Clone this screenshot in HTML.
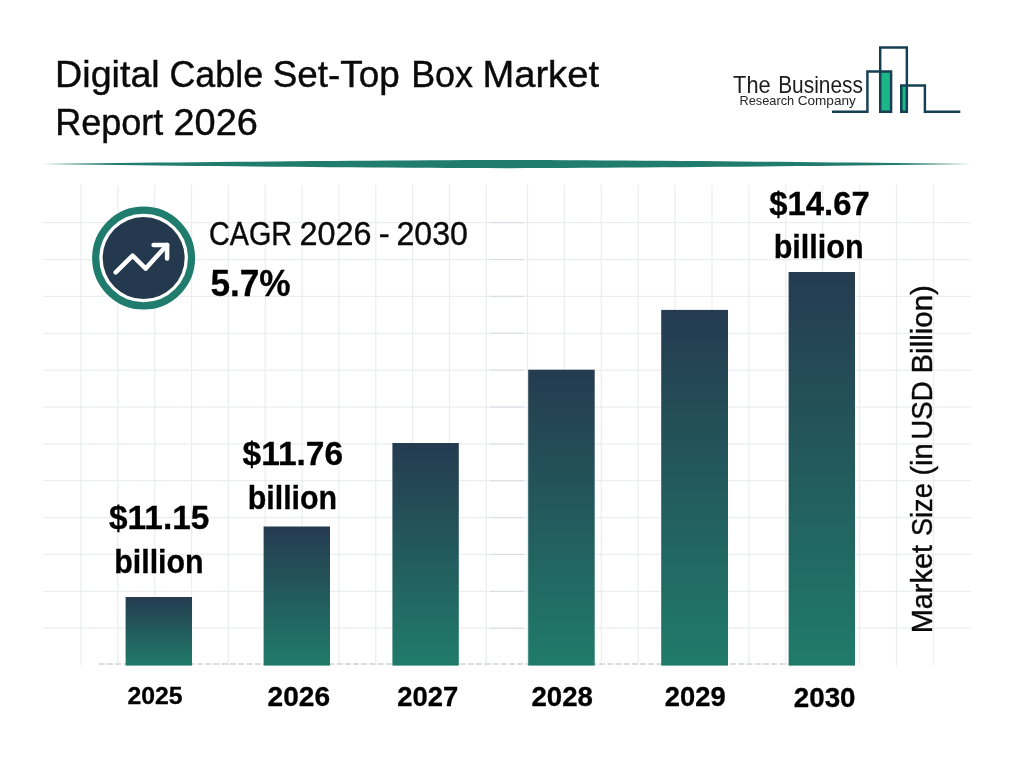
<!DOCTYPE html>
<html lang="en">
<head>
<meta charset="utf-8">
<title>Digital Cable Set-Top Box Market Report 2026</title>
<style>
html,body{margin:0;padding:0;background:#fff;}
body{width:1024px;height:768px;overflow:hidden;font-family:"Liberation Sans",sans-serif;}
svg{display:block;position:absolute;left:0;top:0;}
text{font-family:"Liberation Sans",sans-serif;fill:#0a0a0a;stroke:#0a0a0a;stroke-width:0.4px;}
.b{font-weight:bold;fill:#000;stroke:#000;stroke-width:0.3px;}
</style>
</head>
<body>
<svg width="1024" height="768" viewBox="0 0 1024 768">
<defs>
<linearGradient id="bar" x1="0" y1="0" x2="0" y2="1">
<stop offset="0" stop-color="#253b50"/>
<stop offset="1" stop-color="#207b6a"/>
</linearGradient>
</defs>
<rect width="1024" height="768" fill="#ffffff"/>

<g stroke="#ebedf0" stroke-width="1.25" fill="none">
<line x1="43.2" y1="222.65" x2="970.8" y2="222.65"/>
<line x1="43.2" y1="259.52" x2="970.8" y2="259.52"/>
<line x1="43.2" y1="296.39" x2="970.8" y2="296.39"/>
<line x1="43.2" y1="333.26" x2="970.8" y2="333.26"/>
<line x1="43.2" y1="370.13" x2="970.8" y2="370.13"/>
<line x1="43.2" y1="407.00" x2="970.8" y2="407.00"/>
<line x1="43.2" y1="443.87" x2="970.8" y2="443.87"/>
<line x1="43.2" y1="480.74" x2="970.8" y2="480.74"/>
<line x1="43.2" y1="517.61" x2="970.8" y2="517.61"/>
<line x1="43.2" y1="554.48" x2="970.8" y2="554.48"/>
<line x1="43.2" y1="591.35" x2="970.8" y2="591.35"/>
<line x1="43.2" y1="628.22" x2="970.8" y2="628.22"/>
<line x1="81.03" y1="185" x2="81.03" y2="665.6"/>
<line x1="117.87" y1="185" x2="117.87" y2="665.6"/>
<line x1="154.72" y1="185" x2="154.72" y2="665.6"/>
<line x1="191.56" y1="185" x2="191.56" y2="665.6"/>
<line x1="228.40" y1="185" x2="228.40" y2="665.6"/>
<line x1="265.25" y1="185" x2="265.25" y2="665.6"/>
<line x1="302.09" y1="185" x2="302.09" y2="665.6"/>
<line x1="338.93" y1="185" x2="338.93" y2="665.6"/>
<line x1="375.77" y1="185" x2="375.77" y2="665.6"/>
<line x1="412.62" y1="185" x2="412.62" y2="665.6"/>
<line x1="449.46" y1="185" x2="449.46" y2="665.6"/>
<line x1="486.30" y1="185" x2="486.30" y2="665.6"/>
<line x1="527.50" y1="185" x2="527.50" y2="665.6"/>
<line x1="564.40" y1="185" x2="564.40" y2="665.6"/>
<line x1="601.30" y1="185" x2="601.30" y2="665.6"/>
<line x1="638.20" y1="185" x2="638.20" y2="665.6"/>
<line x1="675.10" y1="185" x2="675.10" y2="665.6"/>
<line x1="712.00" y1="185" x2="712.00" y2="665.6"/>
<line x1="748.90" y1="185" x2="748.90" y2="665.6"/>
<line x1="785.80" y1="185" x2="785.80" y2="665.6"/>
<line x1="822.70" y1="185" x2="822.70" y2="665.6"/>
<line x1="859.60" y1="185" x2="859.60" y2="665.6"/>
<line x1="896.50" y1="185" x2="896.50" y2="665.6"/>
<line x1="933.40" y1="185" x2="933.40" y2="665.6"/>
</g>
<g stroke="#d6dbe2" stroke-width="0.9">
<line x1="490" y1="222.65" x2="524" y2="222.65"/>
<line x1="490" y1="259.52" x2="524" y2="259.52"/>
<line x1="490" y1="296.39" x2="524" y2="296.39"/>
<line x1="490" y1="333.26" x2="524" y2="333.26"/>
<line x1="490" y1="370.13" x2="524" y2="370.13"/>
<line x1="490" y1="407.00" x2="524" y2="407.00"/>
<line x1="490" y1="443.87" x2="524" y2="443.87"/>
<line x1="490" y1="480.74" x2="524" y2="480.74"/>
<line x1="490" y1="517.61" x2="524" y2="517.61"/>
<line x1="490" y1="554.48" x2="524" y2="554.48"/>
<line x1="490" y1="591.35" x2="524" y2="591.35"/>
<line x1="490" y1="628.22" x2="524" y2="628.22"/>
</g>
<line x1="98.9" y1="664.1" x2="790" y2="664.1" stroke="#d9dde4" stroke-width="2" stroke-dasharray="5.9 2.3"/>
<rect x="125.6" y="597.0" width="66.4" height="68.6" fill="url(#bar)"/>
<rect x="263.6" y="526.5" width="66.4" height="139.1" fill="url(#bar)"/>
<rect x="392.4" y="443.0" width="66.4" height="222.6" fill="url(#bar)"/>
<rect x="528.2" y="369.7" width="66.5" height="295.9" fill="url(#bar)"/>
<rect x="661.2" y="309.9" width="66.8" height="355.7" fill="url(#bar)"/>
<rect x="788.6" y="272.0" width="66.4" height="393.6" fill="url(#bar)"/>
<polygon fill="#207c6c" points="41.5,164.05 60.9,163.79 80.2,163.55 99.6,163.30 119.0,163.07 138.4,162.84 157.8,162.62 177.1,162.41 196.5,162.21 215.9,162.01 235.3,161.82 254.6,161.63 274.0,161.46 293.4,161.29 312.8,161.12 332.1,160.97 351.5,160.82 370.9,160.68 390.2,160.55 409.6,160.42 429.0,160.30 448.4,160.19 467.8,160.09 487.1,159.99 506.5,159.90 525.9,159.99 545.2,160.09 564.6,160.19 584.0,160.30 603.4,160.42 622.8,160.55 642.1,160.68 661.5,160.82 680.9,160.97 700.2,161.12 719.6,161.29 739.0,161.46 758.4,161.63 777.8,161.82 797.1,162.01 816.5,162.21 835.9,162.41 855.2,162.62 874.6,162.84 894.0,163.07 913.4,163.30 932.8,163.55 952.1,163.79 971.5,164.05 971.5,164.05 952.1,164.31 932.8,164.55 913.4,164.80 894.0,165.03 874.6,165.26 855.2,165.48 835.9,165.69 816.5,165.89 797.1,166.09 777.8,166.28 758.4,166.47 739.0,166.64 719.6,166.81 700.2,166.98 680.9,167.13 661.5,167.28 642.1,167.42 622.8,167.55 603.4,167.68 584.0,167.80 564.6,167.91 545.2,168.01 525.9,168.11 506.5,168.20 487.1,168.11 467.8,168.01 448.4,167.91 429.0,167.80 409.6,167.68 390.2,167.55 370.9,167.42 351.5,167.28 332.1,167.13 312.8,166.98 293.4,166.81 274.0,166.64 254.6,166.47 235.3,166.28 215.9,166.09 196.5,165.89 177.1,165.69 157.8,165.48 138.4,165.26 119.0,165.03 99.6,164.80 80.2,164.55 60.9,164.31 41.5,164.05"/>
<circle cx="143.6" cy="258.05" r="47.9" fill="#fff" stroke="#207c6c" stroke-width="7.2"/>
<circle cx="143.65" cy="258.05" r="41" fill="#24394e"/>
<g fill="none" stroke="#fff" stroke-width="4.5" stroke-linecap="round" stroke-linejoin="round">
<polyline points="115.7,272.4 132.6,255.7 145.7,268.6 167.1,244.9"/>
<polyline points="153.6,244.9 167.1,244.9 167.1,258.4"/>
</g>
<g fill="#1cb688">
<rect x="880.2" y="71.45" width="10.9" height="40.3"/>
<rect x="901.25" y="85.4" width="5.6" height="26.35"/>
</g>
<polyline fill="none" stroke="#163f54" stroke-width="2.45" stroke-linejoin="miter" points="832,111.75 867.4,111.75 867.4,71.45 891.1,71.45 891.1,111.75 880.2,111.75 880.2,47.45 906.85,47.45 906.85,111.75 901.25,111.75 901.25,85.4 924.9,85.4 924.9,111.75 960.3,111.75"/>
<text y="86.90" font-size="36"><tspan x="55.11" textLength="104.61" lengthAdjust="spacingAndGlyphs">Digital</tspan> <tspan x="169.48" textLength="93.61" lengthAdjust="spacingAndGlyphs">Cable</tspan> <tspan x="272.73" textLength="127.02" lengthAdjust="spacingAndGlyphs">Set-Top</tspan> <tspan x="411.15" textLength="61.93" lengthAdjust="spacingAndGlyphs">Box</tspan> <tspan x="482.47" textLength="116.51" lengthAdjust="spacingAndGlyphs">Market</tspan></text>
<text y="134.90" font-size="36"><tspan x="55.25" textLength="108.02" lengthAdjust="spacingAndGlyphs">Report</tspan> <tspan x="173.49" textLength="84.37" lengthAdjust="spacingAndGlyphs">2026</tspan></text>
<text y="245.00" font-size="33.9"><tspan x="209.04" textLength="82.99" lengthAdjust="spacingAndGlyphs">CAGR</tspan> <tspan x="299.57" textLength="72.05" lengthAdjust="spacingAndGlyphs">2026</tspan> <tspan x="378.75" textLength="10.91" lengthAdjust="spacingAndGlyphs">-</tspan> <tspan x="396.48" textLength="71.47" lengthAdjust="spacingAndGlyphs">2030</tspan></text>
<text y="295.60" font-size="37.3" class="b"><tspan x="210.42" textLength="80.21" lengthAdjust="spacingAndGlyphs">5.7%</tspan></text>
<text y="528.50" font-size="32.6" class="b"><tspan x="109.06" textLength="100.27" lengthAdjust="spacingAndGlyphs">$11.15</tspan></text>
<text y="572.80" font-size="32.6" class="b"><tspan x="114.25" textLength="89.33" lengthAdjust="spacingAndGlyphs">billion</tspan></text>
<text y="464.70" font-size="32.6" class="b"><tspan x="242.56" textLength="100.55" lengthAdjust="spacingAndGlyphs">$11.76</tspan></text>
<text y="508.75" font-size="32.6" class="b"><tspan x="247.69" textLength="89.49" lengthAdjust="spacingAndGlyphs">billion</tspan></text>
<text y="214.60" font-size="32.6" class="b"><tspan x="769.17" textLength="100.58" lengthAdjust="spacingAndGlyphs">$14.67</tspan></text>
<text y="258.40" font-size="32.6" class="b"><tspan x="773.68" textLength="90.01" lengthAdjust="spacingAndGlyphs">billion</tspan></text>
<text y="704.10" font-size="24" class="b"><tspan x="127.44" textLength="55.15" lengthAdjust="spacingAndGlyphs">2025</tspan></text>
<text y="706.00" font-size="27" class="b"><tspan x="267.63" textLength="62.49" lengthAdjust="spacingAndGlyphs">2026</tspan></text>
<text y="706.00" font-size="27" class="b"><tspan x="397.25" textLength="61.06" lengthAdjust="spacingAndGlyphs">2027</tspan></text>
<text y="706.10" font-size="27" class="b"><tspan x="531.44" textLength="61.41" lengthAdjust="spacingAndGlyphs">2028</tspan></text>
<text y="706.30" font-size="27" class="b"><tspan x="664.85" textLength="60.97" lengthAdjust="spacingAndGlyphs">2029</tspan></text>
<text y="706.60" font-size="27" class="b"><tspan x="793.74" textLength="61.80" lengthAdjust="spacingAndGlyphs">2030</tspan></text>
<text y="0.00" font-size="29.8" transform="translate(932.3 633) rotate(-90)"><tspan x="-0.37" textLength="88.38" lengthAdjust="spacingAndGlyphs">Market</tspan> <tspan x="96.97" textLength="52.74" lengthAdjust="spacingAndGlyphs">Size</tspan> <tspan x="157.46" textLength="32.12" lengthAdjust="spacingAndGlyphs">(in</tspan> <tspan x="193.37" textLength="58.35" lengthAdjust="spacingAndGlyphs">USD</tspan> <tspan x="259.49" textLength="88.34" lengthAdjust="spacingAndGlyphs">Billion)</tspan></text>
<text y="92.80" font-size="24.1" style="fill:#1c1c1c;stroke:none"><tspan x="733.11" textLength="37.56" lengthAdjust="spacingAndGlyphs">The</tspan> <tspan x="778.19" textLength="84.67" lengthAdjust="spacingAndGlyphs">Business</tspan></text>
<text y="104.80" font-size="12.8" style="fill:#262626;stroke:none"><tspan x="739.55" textLength="54.57" lengthAdjust="spacingAndGlyphs">Research</tspan> <tspan x="797.71" textLength="58.12" lengthAdjust="spacingAndGlyphs">Company</tspan></text>
</svg>
</body>
</html>
